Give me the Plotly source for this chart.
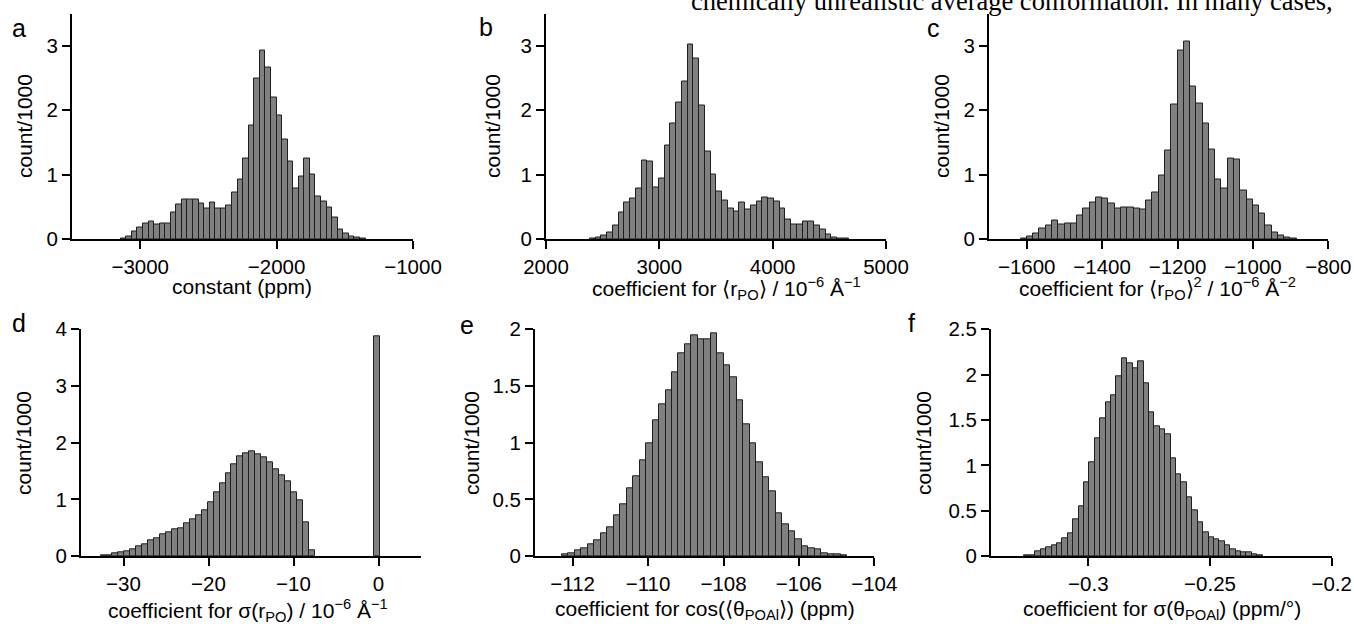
import plotly.graph_objects as go

# ---------------- data (count/1000 per histogram bin) ----------------
a_counts = [0.02, 0.05, 0.12, 0.18, 0.25, 0.28, 0.23, 0.25, 0.25, 0.42,
            0.54, 0.61, 0.61, 0.61, 0.55, 0.48, 0.57, 0.47, 0.47, 0.53,
            0.73, 0.92, 1.25, 1.77, 2.5, 2.92, 2.66, 2.2, 1.92, 1.55,
            1.2, 0.79, 0.98, 1.25, 1.0, 0.66, 0.59, 0.5, 0.34, 0.15,
            0.09, 0.05, 0.03, 0.01]
a_bin_start, a_bin_width = -3143.0, 40.8

b_counts = [0.01, 0.03, 0.06, 0.11, 0.22, 0.41, 0.57, 0.63, 0.79, 1.22,
            1.21, 0.81, 0.95, 1.45, 1.79, 2.12, 2.45, 3.02, 2.81, 2.08,
            1.36, 1.0, 0.74, 0.6, 0.47, 0.43, 0.57, 0.46, 0.53, 0.58,
            0.65, 0.63, 0.58, 0.47, 0.3, 0.23, 0.23, 0.27, 0.27, 0.21,
            0.15, 0.07, 0.03, 0.015, 0.005]
b_bin_start, b_bin_width = 2388.0, 50.7

c_counts = [0.015, 0.04, 0.09, 0.17, 0.22, 0.29, 0.23, 0.24, 0.24, 0.37,
            0.48, 0.57, 0.65, 0.63, 0.55, 0.47, 0.49, 0.49, 0.47, 0.46,
            0.6, 0.73, 0.99, 1.38, 2.09, 2.92, 3.06, 2.37, 2.1, 1.79,
            1.39, 0.92, 0.79, 1.25, 1.23, 0.76, 0.62, 0.53, 0.4, 0.21,
            0.11, 0.06, 0.035, 0.015]
c_bin_start, c_bin_width = -1616.0, 16.64

d_counts = [0.01, 0.02, 0.05, 0.065, 0.09, 0.12, 0.165, 0.2, 0.27, 0.32,
            0.38, 0.42, 0.48, 0.49, 0.58, 0.64, 0.71, 0.81, 0.94, 1.12,
            1.28, 1.46, 1.61, 1.76, 1.81, 1.84, 1.79, 1.74, 1.65, 1.53,
            1.43, 1.32, 1.12, 0.99, 0.59, 0.1,
            0, 0, 0, 0, 0, 0, 0, 0, 0, 0,
            3.88]
d_bin_start, d_bin_width = -32.7, 0.7

e_counts = [0.012, 0.026, 0.047, 0.068, 0.1, 0.141, 0.203, 0.256, 0.359, 0.453,
            0.6, 0.703, 0.844, 0.991, 1.2, 1.338, 1.459, 1.624, 1.79, 1.871,
            1.95, 1.912, 1.915, 1.965, 1.79, 1.68, 1.58, 1.37, 1.16, 0.99,
            0.83, 0.69, 0.57, 0.38, 0.28, 0.22, 0.15, 0.09, 0.07, 0.06,
            0.02, 0.012, 0.015, 0.006]
e_bin_start, e_bin_width = -112.29, 0.172

f_counts = [0.004, 0.01, 0.05, 0.075, 0.1, 0.12, 0.14, 0.19, 0.25, 0.41,
            0.55, 0.81, 1.03, 1.3, 1.52, 1.69, 1.77, 1.98, 2.18, 2.12,
            2.07, 2.15, 1.91, 1.59, 1.43, 1.40, 1.34, 1.08, 0.90, 0.81,
            0.65, 0.50, 0.37, 0.26, 0.21, 0.18, 0.16, 0.12, 0.077, 0.055,
            0.04, 0.037, 0.022, 0.011]
f_bin_start, f_bin_width = -0.32626, 0.002225

a_xticks = [-3000, -2000, -1000]
b_xticks = [2000, 3000, 4000, 5000]
c_xticks = [-1600, -1400, -1200, -1000, -800]
d_xticks = [-30, -20, -10, 0]
e_xticks = [-112, -110, -108, -106, -104]
f_xticks = [-0.3, -0.25, -0.2]
top_yticks = [0, 1, 2, 3]
d_yticks = [0, 1, 2, 3, 4]
e_yticks = [0, 0.5, 1, 1.5, 2]
f_yticks = [0, 0.5, 1, 1.5, 2, 2.5]

panel_letters = ["a", "b", "c", "d", "e", "f"]
x_titles = [
    "constant (ppm)",
    "coefficient for ⟨r<sub>PO</sub>⟩ / 10<sup>−6</sup> Å<sup>−1</sup>",
    "coefficient for ⟨r<sub>PO</sub>⟩<sup>2</sup> / 10<sup>−6</sup> Å<sup>−2</sup>",
    "coefficient for σ(r<sub>PO</sub>) / 10<sup>−6</sup> Å<sup>−1</sup>",
    "coefficient for cos(⟨θ<sub>POAl</sub>⟩) (ppm)",
    "coefficient for σ(θ<sub>POAl</sub>) (ppm/°)",
]
y_title = "count/1000"
top_text = "chemically unrealistic average conformation. In many cases,"

# ---------------- layout ----------------
W, H = 1354, 624
FONT = "Liberation Sans, Arial, Helvetica, sans-serif"
TICK_SIZE = 20.5


def fx(p):
    return p / W


def fy(p):
    return 1 - p / H


panels = [
    dict(c=a_counts, s=a_bin_start, w=a_bin_width, xr=[-3500, -1000], xt=a_xticks,
         yr=[0, 3.5], yt=top_yticks, xd=(72, 413), yd=(239.3, 13.5)),
    dict(c=b_counts, s=b_bin_start, w=b_bin_width, xr=[2000, 5000], xt=b_xticks,
         yr=[0, 3.5], yt=top_yticks, xd=(546, 886), yd=(239.3, 13.5)),
    dict(c=c_counts, s=c_bin_start, w=c_bin_width, xr=[-1700, -800], xt=c_xticks,
         yr=[0, 3.5], yt=top_yticks, xd=(989, 1328.3), yd=(239.3, 13.5)),
    dict(c=d_counts, s=d_bin_start, w=d_bin_width, xr=[-35, 5], xt=d_xticks,
         yr=[0, 4], yt=d_yticks, xd=(81, 421), yd=(556, 329.3)),
    dict(c=e_counts, s=e_bin_start, w=e_bin_width, xr=[-113, -104], xt=e_xticks,
         yr=[0, 2], yt=e_yticks, xd=(535, 874.3), yd=(556, 329.3)),
    dict(c=f_counts, s=f_bin_start, w=f_bin_width, xr=[-0.34, -0.2], xt=f_xticks,
         yr=[0, 2.5], yt=f_yticks, xd=(991, 1331.7), yd=(556, 329.3)),
]

letter_pos = [(18.5, 28), (486, 27), (934, 28), (18.5, 323), (466.5, 325), (911, 323)]
xtitle_pos = [(242, 287), (726, 288), (1157, 288), (248, 610), (705, 610), (1162, 610)]
ytitle_pos = [(25, 126), (493, 126), (942, 126), (23, 443), (471, 443), (923, 443)]

fig = go.Figure()
layout = dict(
    width=W, height=H,
    margin=dict(l=0, r=0, t=0, b=0, pad=0, autoexpand=False),
    paper_bgcolor="white", plot_bgcolor="white",
    showlegend=False, bargap=0,
    font=dict(family=FONT, size=TICK_SIZE, color="black"),
)
annotations = []

for i, p in enumerate(panels):
    k = "" if i == 0 else str(i + 1)
    centers = [p["s"] + (j + 0.5) * p["w"] for j in range(len(p["c"]))]
    xs = [x for x, v in zip(centers, p["c"]) if v > 0]
    ys = [v for v in p["c"] if v > 0]
    fig.add_trace(go.Bar(
        x=xs, y=ys, width=p["w"],
        marker=dict(color="#808080", line=dict(color="#1e1e1e", width=1)),
        xaxis="x" + k, yaxis="y" + k, hoverinfo="x+y",
    ))
    axis_common = dict(
        showline=True, linewidth=2, linecolor="black",
        ticks="outside", ticklen=8, tickwidth=2, tickcolor="black",
        showgrid=False, zeroline=False, automargin=False,
        tickfont=dict(family=FONT, size=TICK_SIZE, color="black"),
    )
    layout["xaxis" + k] = dict(
        axis_common, domain=[fx(p["xd"][0]), fx(p["xd"][1])], range=p["xr"],
        tickmode="array", tickvals=p["xt"], anchor="y" + k,
    )
    layout["yaxis" + k] = dict(
        axis_common, domain=[fy(p["yd"][0]), fy(p["yd"][1])], range=p["yr"],
        tickmode="array", tickvals=p["yt"], anchor="x" + k,
    )
    lx, ly = letter_pos[i]
    annotations.append(dict(text=panel_letters[i], x=fx(lx), y=fy(ly), xref="paper", yref="paper",
                            showarrow=False, xanchor="center", yanchor="middle",
                            font=dict(family=FONT, size=25, color="black")))
    tx, ty = xtitle_pos[i]
    annotations.append(dict(text=x_titles[i], x=fx(tx), y=fy(ty), xref="paper", yref="paper",
                            showarrow=False, xanchor="center", yanchor="middle",
                            font=dict(family=FONT, size=21, color="black")))
    yx, yy = ytitle_pos[i]
    annotations.append(dict(text=y_title, x=fx(yx), y=fy(yy), xref="paper", yref="paper",
                            showarrow=False, xanchor="center", yanchor="middle", textangle=-90,
                            font=dict(family=FONT, size=21, color="black")))

# running text of the page above the figure, cut by the top edge as in the reference
annotations.append(dict(text=top_text, x=fx(689), y=fy(0.5), xref="paper", yref="paper",
                        showarrow=False, xanchor="left", yanchor="middle",
                        font=dict(family="Liberation Serif, Times New Roman, serif", size=26.5,
                                  color="black")))

layout["annotations"] = annotations
fig.update_layout(**layout)
fig.write_html(
    "out.html",
    config={"displayModeBar": False},
    post_script="document.body.style.margin='0px';document.body.style.padding='0px';"
                "document.body.style.overflow='hidden';",
)
